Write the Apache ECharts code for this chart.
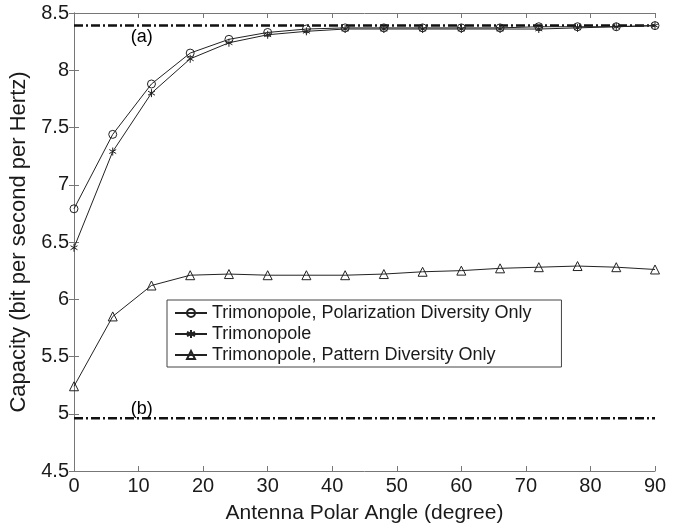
<!DOCTYPE html>
<html>
<head>
<meta charset="utf-8">
<script src="https://cdn.jsdelivr.net/npm/echarts@6/dist/echarts.min.js"></script>
<style>
  html, body { margin: 0; padding: 0; background: #fff; }
  #chart { width: 684px; height: 529px; }
</style>
</head>
<body>
<div id="chart"></div>
<script>
  // polar angle samples (degree)
  const angles = [0, 6, 12, 18, 24, 30, 36, 42, 48, 54, 60, 66, 72, 78, 84, 90]
  const polarizationOnly = [6.79, 7.44, 7.88, 8.15, 8.27, 8.33, 8.36, 8.37, 8.37, 8.37, 8.37, 8.37, 8.38, 8.38, 8.38, 8.39]
  const trimonopole = [6.45, 7.29, 7.80, 8.10, 8.24, 8.31, 8.34, 8.36, 8.36, 8.36, 8.36, 8.36, 8.36, 8.37, 8.38, 8.39]
  const patternOnly = [5.24, 5.85, 6.12, 6.21, 6.22, 6.21, 6.21, 6.21, 6.22, 6.24, 6.25, 6.27, 6.28, 6.29, 6.28, 6.26]
  const boundA = 8.39
  const boundB = 4.96
  const xRange = [0, 90]
  const boundLabelX = 10.5

  const FONT = 'Liberation Sans'
  const AXIS_COLOR = '#777'
  const TEXT_COLOR = '#1a1a1a'
  const LINE_COLOR = '#222'
  const ASTERISK = 'path://M0,-10L0,10M-8.66,-5L8.66,5M-8.66,5L8.66,-5'

  const pairs = (xs, ys) => xs.map((x, i) => [x, ys[i]])

  function curve(name, values, symbol, size) {
    return {
      name: name,
      type: 'line',
      data: pairs(angles, values),
      symbol: symbol,
      symbolSize: size,
      symbolKeepAspect: true,
      showAllSymbol: true,
      lineStyle: {color: LINE_COLOR, width: 1},
      itemStyle: {color: 'none', borderColor: LINE_COLOR, borderWidth: 1},
      emphasis: {disabled: true},
      z: 3
    }
  }

  function bound(name, value) {
    return {
      name: name,
      type: 'line',
      data: pairs(xRange, [value, value]),
      symbol: 'none',
      lineStyle: {color: '#111', width: 2.5, type: [9, 3, 2, 3]},
      emphasis: {disabled: true},
      z: 2
    }
  }

  function boundLabel(text, value, offsetY) {
    return {
      type: 'scatter',
      data: [[boundLabelX, value]],
      symbolSize: 0,
      silent: true,
      itemStyle: {opacity: 1},
      label: {
        show: true,
        position: 'inside',
        formatter: text,
        offset: [0, offsetY],
        color: '#000',
        opacity: 1,
        fontFamily: FONT,
        fontSize: 18
      },
      z: 4
    }
  }

  const baseAxis = {
    axisLine: {show: true, lineStyle: {color: AXIS_COLOR, width: 1}},
    axisTick: {show: true, inside: true, length: 5, lineStyle: {color: AXIS_COLOR}},
    splitLine: {show: false}
  }

  const chart = echarts.init(document.getElementById('chart'), null, {renderer: 'canvas'})
  chart.setOption({
    animation: false,
    backgroundColor: '#fff',
    grid: {left: 73, right: 29, top: 13, bottom: 58},
    legend: {
      data: ['Trimonopole, Polarization Diversity Only', 'Trimonopole', 'Trimonopole, Pattern Diversity Only'],
      orient: 'vertical',
      left: 167,
      top: 300,
      padding: [4, 30, 3, 7],
      itemGap: 3,
      itemWidth: 32,
      itemHeight: 10,
      backgroundColor: '#fff',
      borderColor: '#444',
      borderWidth: 1,
      borderRadius: 0,
      textStyle: {color: TEXT_COLOR, fontFamily: FONT, fontSize: 18}
    },
    xAxis: [
      Object.assign({}, baseAxis, {
        type: 'value', min: 0, max: 90, interval: 10,
        name: 'Antenna Polar Angle (degree)',
        nameLocation: 'middle',
        nameGap: 32,
        nameTextStyle: {color: TEXT_COLOR, fontFamily: FONT, fontSize: 21},
        axisLabel: {color: TEXT_COLOR, fontFamily: FONT, fontSize: 20, margin: 5}
      }),
      Object.assign({}, baseAxis, {
        type: 'value', min: 0, max: 90, interval: 10, position: 'top',
        axisLabel: {show: false}
      })
    ],
    yAxis: [
      Object.assign({}, baseAxis, {
        type: 'value', min: 4.5, max: 8.5, interval: 0.5,
        name: 'Capacity (bit per second per Hertz)',
        nameLocation: 'middle',
        nameGap: 44,
        nameTextStyle: {color: TEXT_COLOR, fontFamily: FONT, fontSize: 22},
        axisLabel: {color: TEXT_COLOR, fontFamily: FONT, fontSize: 20, margin: 5}
      }),
      Object.assign({}, baseAxis, {
        type: 'value', min: 4.5, max: 8.5, interval: 0.5, position: 'right',
        axisLabel: {show: false}
      })
    ],
    series: [
      bound('bound a', boundA),
      bound('bound b', boundB),
      boundLabel('(a)', boundA, 11),
      boundLabel('(b)', boundB, -9),
      curve('Trimonopole, Polarization Diversity Only', polarizationOnly, 'circle', 8),
      curve('Trimonopole', trimonopole, ASTERISK, 8),
      curve('Trimonopole, Pattern Diversity Only', patternOnly, 'triangle', 9)
    ]
  })
</script>
</body>
</html>
